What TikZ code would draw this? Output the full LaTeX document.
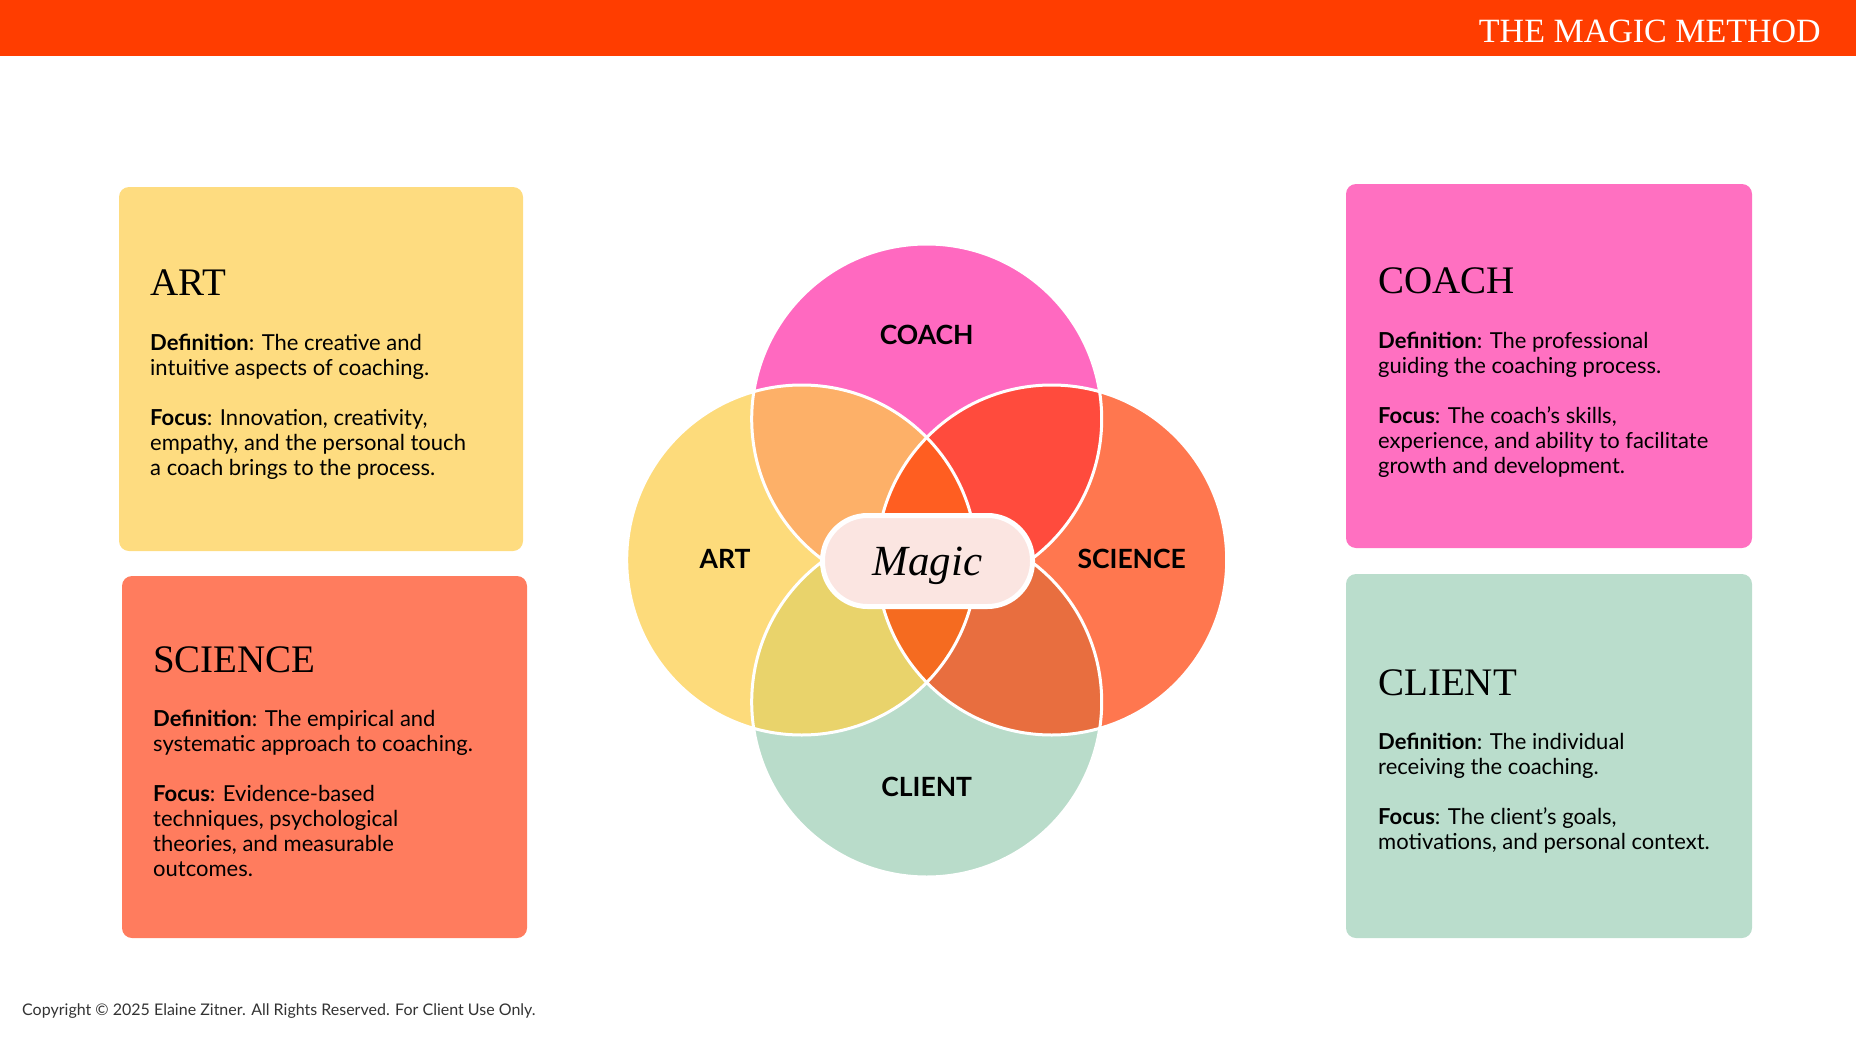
\documentclass[tikz,border=0pt]{standalone}
\usepackage{fontspec}
\setmainfont{Lato}
\newfontfamily\headfont{Liberation Serif}
\usepackage{tikz}
\definecolor{barred}{HTML}{FF3D00}
\definecolor{coachpink}{HTML}{FF69C0}
\definecolor{artyel}{HTML}{FDDB7B}
\definecolor{sciorange}{HTML}{FF774F}
\definecolor{clientmint}{HTML}{B9DCCA}
\definecolor{tlcol}{HTML}{FDB068}
\definecolor{trcol}{HTML}{FF4B3D}
\definecolor{blcol}{HTML}{E9D36B}
\definecolor{brcol}{HTML}{E86E3F}
\definecolor{midtop}{HTML}{FF5E21}
\definecolor{midbot}{HTML}{F56B20}
\definecolor{magicpink}{HTML}{FBE5E1}
\definecolor{artcard}{HTML}{FEDC80}
\definecolor{scicard}{HTML}{FF7C5E}
\definecolor{coachcard}{HTML}{FF70C1}
\definecolor{clientcard}{HTML}{BADDCC}
\definecolor{copygray}{HTML}{333333}

\begin{document}
\begin{tikzpicture}[x=1pt,y=-1pt,
  card/.style={rectangle,rounded corners=10pt,inner sep=0pt},
  head/.style={anchor=base west,inner sep=0pt,font=\headfont\fontsize{39}{39}\selectfont},
  body/.style={anchor=base west,inner sep=0pt,font=\fontsize{22}{25}\selectfont},
  lbl/.style={anchor=base,inner sep=0pt,font=\bfseries\fontsize{26.5}{26.5}\selectfont}]
  \useasboundingbox (0,0) rectangle (1856,1044);
  % header bar
  \fill[barred] (0,0) rectangle (1856,56);
  \node[anchor=base east,inner sep=0pt,text=white,font=\headfont\fontsize{34}{34}\selectfont] (title) at (1821,42) {THE MAGIC METHOD};

  % cards
  \node[card,fill=artcard,minimum width=404,minimum height=364] (artbox) at (321,369) {};
  \node[card,fill=scicard,minimum width=405,minimum height=362] (scibox) at (324.5,757) {};
  \node[card,fill=coachcard,minimum width=406,minimum height=364] (coachbox) at (1549,366) {};
  \node[card,fill=clientcard,minimum width=406,minimum height=364] (clientbox) at (1549,756) {};

  \node[head] (arthead) at (150,295) {ART};
  \node[body] (arttext) at (150,350) {\begin{tabular}[t]{@{}l@{}}\textbf{Definition}: The creative and\\intuitive aspects of coaching.\\[25pt]\textbf{Focus}: Innovation, creativity,\\empathy, and the personal touch\\a coach brings to the process.\end{tabular}};
  \node[head] (scihead) at (153,672) {SCIENCE};
  \node[body] (scitext) at (153,726) {\begin{tabular}[t]{@{}l@{}}\textbf{Definition}: The empirical and\\systematic approach to coaching.\\[25pt]\textbf{Focus}: Evidence-based\\techniques, psychological\\theories, and measurable\\outcomes.\end{tabular}};
  \node[head] (coachhead) at (1378,293) {COACH};
  \node[body] (coachtext) at (1378,348) {\begin{tabular}[t]{@{}l@{}}\textbf{Definition}: The professional\\guiding the coaching process.\\[25pt]\textbf{Focus}: The coach’s skills,\\experience, and ability to facilitate\\growth and development.\end{tabular}};
  \node[head] (clienthead) at (1378,695) {CLIENT};
  \node[body] (clienttext) at (1378,749) {\begin{tabular}[t]{@{}l@{}}\textbf{Definition}: The individual\\receiving the coaching.\\[25pt]\textbf{Focus}: The client's goals,\\motivations, and personal context.\end{tabular}};

  % venn
  \coordinate (ctop) at (926.7,419);
  \coordinate (cleft) at (801.7,560);
  \coordinate (cright) at (1051.7,560);
  \coordinate (cbot) at (926.7,702);
  \fill[coachpink] (ctop) circle[radius=175];
  \fill[artyel] (cleft) circle[radius=175];
  \fill[sciorange] (cright) circle[radius=175];
  \fill[clientmint] (cbot) circle[radius=175];
  \begin{scope}
    \clip (ctop) circle[radius=175];
    \fill[tlcol] (cleft) circle[radius=175];
    \fill[trcol] (cright) circle[radius=175];
  \end{scope}
  \begin{scope}
    \clip (cbot) circle[radius=175];
    \fill[blcol] (cleft) circle[radius=175];
    \fill[brcol] (cright) circle[radius=175];
  \end{scope}
  \begin{scope}
    \clip (cleft) circle[radius=175];
    \clip (cright) circle[radius=175];
    \fill[midtop] (ctop) circle[radius=175];
    \fill[midbot] (cbot) circle[radius=175];
  \end{scope}
  \foreach \c in {ctop,cleft,cright,cbot}{
    \draw[white,line width=3] (\c) circle[radius=175];}

  \node[lbl] (coachlbl) at (926.7,344) {COACH};
  \node[lbl] (artlbl) at (725,568) {ART};
  \node[lbl] (scilbl) at (1131.7,568) {SCIENCE};
  \node[lbl] (clientlbl) at (926.7,796) {CLIENT};
  \node[draw=white,line width=5,fill=magicpink,rounded corners=45pt,minimum width=210,minimum height=91,
    inner sep=0pt,text height=28,text depth=0,font=\headfont\itshape\fontsize{43}{43}\selectfont] (magic) at (927.5,561) {Magic};

  \node[anchor=base west,inner sep=0pt,text=copygray,font=\fontsize{16}{16}\selectfont] (copyright) at (22,1015) {Copyright © 2025 Elaine Zitner. All Rights Reserved. For Client Use Only.};
\end{tikzpicture}
\end{document}
